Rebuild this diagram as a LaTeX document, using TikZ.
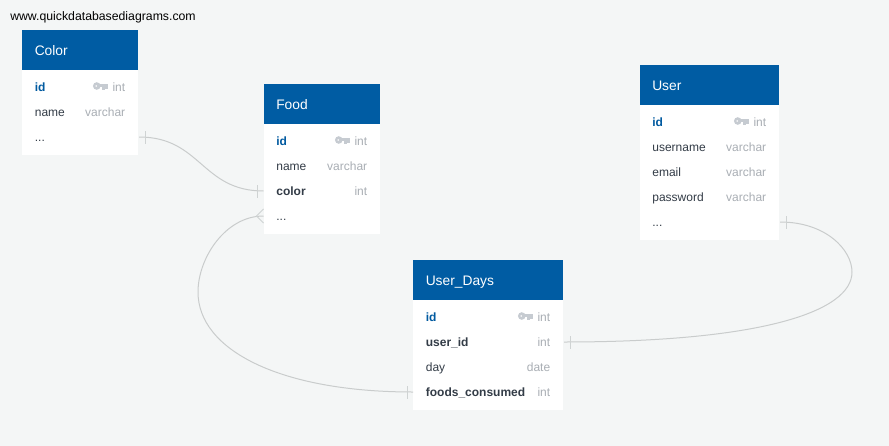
\documentclass[tikz,border=0pt]{standalone}
\usepackage{fontspec}
\setmainfont{Liberation Sans}
\definecolor{bgc}{HTML}{F4F6F6}
\definecolor{headc}{HTML}{005CA3}
\definecolor{darkc}{HTML}{333C47}
\definecolor{idc}{HTML}{005AA0}
\definecolor{typec}{HTML}{A9AEB4}
\definecolor{keyc}{HTML}{C6CBD1}
\definecolor{linec}{HTML}{C9CCCC}
\definecolor{tickc}{HTML}{CFD3D3}
\def\px{0.75pt}
\tikzset{
  x=0.75pt,y=-0.75pt,
  head/.style={fill=headc,draw=none,inner sep=0pt,anchor=north west,minimum height=40*\px},
  body/.style={fill=white,draw=none,inner sep=0pt,anchor=north west},
  band/.style={draw=none,inner sep=0pt,anchor=west,minimum height=25*\px},
  htext/.style={text=white,inner sep=0pt,anchor=base west,font=\fontsize{10.35}{12}\selectfont},
  rtext/.style={text=darkc,inner sep=0pt,anchor=base west,font=\fontsize{9}{11}\selectfont},
  btext/.style={rtext,font=\fontsize{9}{11}\selectfont\bfseries},
  idtext/.style={btext,text=idc},
  ttext/.style={text=typec,inner sep=0pt,anchor=base east,font=\fontsize{9}{11}\selectfont},
  link/.style={draw=linec,line width=0.75pt},
  tick/.style={draw=tickc,line width=0.75pt},
  keyicon/.pic={
    \fill[keyc,even odd rule] (3.8,0) circle[radius=3.8] (3.3,0) circle[radius=1.2];
    \fill[keyc] (6.5,-1.6) rectangle (15.5,1.4);
    \fill[keyc] (9.3,1) rectangle (11.8,3.6);
    \fill[keyc] (12.5,1) rectangle (15,3.2);
  }
}
% #1 id, #2 left, #3 top, #4 width, #5 height, #6 title
\newcommand{\ertable}[6]{%
  \node[body,minimum width=#4*\px,minimum height=#5*\px] (#1) at (#2,#3) {};
  \node[head,minimum width=#4*\px] (#1head) at (#2,#3) {};
  \node[htext] (#1title) at ([xshift=12.5*\px,yshift=-25.2*\px]#1head.north west) {#6};
}
% #1 table, #2 row id, #3 row centre offset from table top, #4 style, #5 text, #6 type
\newcommand{\errow}[6]{%
  \path let \p1=(#1.west), \p2=(#1.east), \p3=(#1.north) in
    node[band,minimum width=\x2-\x1] (#1#2) at (\x1,\y3-#3*\px) {};
  \node[#4] (#1#2text) at ([xshift=12.6*\px,yshift=-4*\px]#1#2.west) {#5};
  \node[ttext] (#1#2type) at ([xshift=-13.6*\px,yshift=-4*\px]#1#2.east) {#6};
}
\usetikzlibrary{calc}
\begin{document}
\begin{tikzpicture}
\fill[bgc] (0,0) rectangle (889,446);
\useasboundingbox (0,0) rectangle (889,446);

\node[text=black,inner sep=0pt,anchor=base west,font=\fontsize{9.2}{11}\selectfont] (site) at (10,20) {www.quickdatabasediagrams.com};

% Color
\ertable{color}{22}{30}{116}{125}{Color}
\errow{color}{Id}{57}{idtext}{id}{int}
\errow{color}{Name}{82}{rtext}{name}{varchar}
\errow{color}{More}{107}{rtext}{...}{}
\pic at ([xshift=-32.5*\px,yshift=5*\px]colorIdtype.base east) {keyicon};

% Food
\ertable{food}{263.5}{84}{116.5}{150}{Food}
\errow{food}{Id}{57}{idtext}{id}{int}
\errow{food}{Name}{82}{rtext}{name}{varchar}
\errow{food}{Col}{107}{btext}{color}{int}
\errow{food}{More}{132}{rtext}{...}{}
\pic at ([xshift=-32.5*\px,yshift=5*\px]foodIdtype.base east) {keyicon};

% User
\ertable{user}{639.5}{65}{139.5}{175}{User}
\errow{user}{Id}{57}{idtext}{id}{int}
\errow{user}{Name}{82}{rtext}{username}{varchar}
\errow{user}{Email}{107}{rtext}{email}{varchar}
\errow{user}{Pass}{132}{rtext}{password}{varchar}
\errow{user}{More}{157}{rtext}{...}{}
\pic at ([xshift=-32.5*\px,yshift=5*\px]userIdtype.base east) {keyicon};

% User_Days
\ertable{days}{413}{260}{150}{150}{User\_Days}
\errow{days}{Id}{57}{idtext}{id}{int}
\errow{days}{Uid}{82}{btext}{user\_id}{int}
\errow{days}{Day}{107}{rtext}{day}{date}
\errow{days}{Foods}{132}{btext}{foods\_consumed}{int}
\pic at ([xshift=-32.5*\px,yshift=5*\px]daysIdtype.base east) {keyicon};

% Connectors
\draw[link] (colorMore.east) .. controls +(62,0) and +(-62,0) .. (foodCol.west);
\draw[link] (foodMore.west) .. controls +(-38,0) and (198,258) .. (198,292)
  .. controls (198,350) and (280,392) .. (daysFoods.west);
\draw[link] (userMore.east) .. controls +(46,0) and (852,250) .. (852,272)
  .. controls (852,312) and (760,342) .. (daysUid.east);

% Cardinality marks
\draw[tick] ([xshift=6*\px,yshift=-6.5*\px]colorMore.east) -- ([xshift=6*\px,yshift=6.5*\px]colorMore.east);
\draw[tick] ([xshift=-6*\px,yshift=-6.5*\px]foodCol.west) -- ([xshift=-6*\px,yshift=6.5*\px]foodCol.west);
\draw[tick] ([xshift=6*\px,yshift=-6.5*\px]userMore.east) -- ([xshift=6*\px,yshift=6.5*\px]userMore.east);
\draw[tick] ([xshift=6*\px,yshift=-6.5*\px]daysUid.east) -- ([xshift=6*\px,yshift=6.5*\px]daysUid.east);
\draw[tick] ([xshift=-6*\px,yshift=-6.5*\px]daysFoods.west) -- ([xshift=-6*\px,yshift=6.5*\px]daysFoods.west);
\draw[tick] ([yshift=7*\px]foodMore.west) -- ([xshift=-7*\px]foodMore.west) -- ([yshift=-7*\px]foodMore.west);
\end{tikzpicture}
\end{document}
